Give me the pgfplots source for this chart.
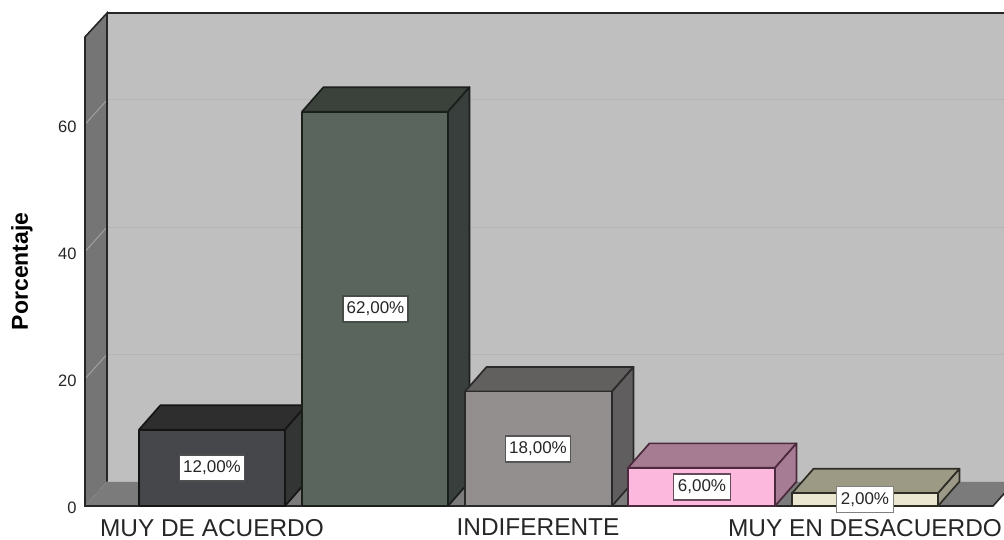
\documentclass[border=0pt]{standalone}
\usepackage{fontspec}
\setmainfont{Liberation Sans}
\usepackage{pgfplots}
\pgfplotsset{compat=1.18}

% Face colours of the five columns: front, top, side, edge
\definecolor{wallback}{HTML}{BFBFBF}
\definecolor{wallside}{HTML}{757575}
\definecolor{floorc}{HTML}{7B7B7B}
\definecolor{gridc}{HTML}{B4B4B4}
\definecolor{tickc}{HTML}{A0A0A0}
\definecolor{txt}{HTML}{262626}
\definecolor{aF}{HTML}{45474A}\definecolor{aT}{HTML}{2E2E2E}\definecolor{aS}{HTML}{333535}\definecolor{aE}{HTML}{151515}
\definecolor{bF}{HTML}{5A665D}\definecolor{bT}{HTML}{3B423C}\definecolor{bS}{HTML}{393F3D}\definecolor{bE}{HTML}{1A1F1C}
\definecolor{cF}{HTML}{928F8E}\definecolor{cT}{HTML}{625F5F}\definecolor{cS}{HTML}{605E5E}\definecolor{cE}{HTML}{2B2A2A}
\definecolor{dF}{HTML}{FCB9DD}\definecolor{dT}{HTML}{A67C92}\definecolor{dS}{HTML}{A67C94}\definecolor{dE}{HTML}{4A2A3C}
\definecolor{eF}{HTML}{EBE6CF}\definecolor{eT}{HTML}{9C9A85}\definecolor{eS}{HTML}{9C9988}\definecolor{eE}{HTML}{2E2D25}

% \cuboid{left}{right}{back left}{back right}{value}{value+depth}{colour prefix}
\newcommand{\cuboid}[7]{%
  \addplot[fill=#7T,draw=#7E,line width=1.7pt,line join=round] coordinates {(#1,#5) (#2,#5) (#4,#6) (#3,#6) (#1,#5)};
  \addplot[fill=#7S,draw=#7E,line width=1.7pt,line join=round] coordinates {(#2,0) (#4,3.85) (#4,#6) (#2,#5) (#2,0)};
  \addplot[fill=#7F,draw=#7E,line width=1.7pt,line join=round] coordinates {(#1,0) (#2,0) (#2,#5) (#1,#5) (#1,0)};
}

\tikzset{
  vallabel/.style={fill=white,draw=#1,line width=1.6pt,inner sep=0pt,minimum height=26pt,
                   font=\fontsize{17}{17}\selectfont,text=txt},
}

\begin{document}
\begin{tikzpicture}
\begin{axis}[
  scale only axis,
  width=919pt, height=506pt,
  xmin=85, xmax=1004, ymin=0, ymax=79.56,
  clip=false,
  axis line style={draw=none},
  tick style={draw=none},
  ytick={0,20,40,60},
  xtick={212,538,865},
  xticklabels={MUY DE ACUERDO,INDIFERENTE,MUY EN DESACUERDO},
  /pgf/number format/assume math mode=true,
  yticklabel style={font=\fontsize{16.5}{16.5}\selectfont,text=txt,yshift=-2pt,xshift=-5pt},
  xticklabel style={font=\fontsize{24.4}{24.4}\selectfont,text=txt,inner sep=0pt,yshift=-13pt},
  ylabel={Porcentaje},
  every axis y label/.style={at={(axis description cs:-0.0686,0.464)},rotate=90,anchor=center},
  ylabel style={font=\bfseries\fontsize{23}{23}\selectfont,text=black},
]
  % Back wall, side wall and floor
  \addplot[fill=wallback,draw=none] coordinates {(107,3.85) (1015,3.85) (1015,77.5) (107,77.5) (107,3.85)};
  \addplot[draw=black!85,line width=1.6pt] coordinates {(107,77.5) (1015,77.5)};
  \addplot[fill=wallside,draw=none] coordinates {(85,0) (107,3.85) (107,77.5) (85,73.75) (85,0)};
  \addplot[fill=floorc,draw=none] coordinates {(85,0) (993,0) (1015,3.85) (107,3.85) (85,0)};

  % Gridlines on the back wall and their run across the side wall
  \addplot[draw=gridc,line width=1pt] coordinates {(107,23.85) (1015,23.85)};
  \addplot[draw=gridc,line width=1pt] coordinates {(107,43.85) (1015,43.85)};
  \addplot[draw=gridc,line width=1pt] coordinates {(107,63.85) (1015,63.85)};
  \addplot[draw=tickc,line width=1pt] coordinates {(85,20) (107,23.85)};
  \addplot[draw=tickc,line width=1pt] coordinates {(85,40) (107,43.85)};
  \addplot[draw=tickc,line width=1pt] coordinates {(85,60) (107,63.85)};

  % Outline of the walls and floor
  \addplot[draw=black!85,line width=1.6pt] coordinates {(107,3.85) (107,77.5) (85,73.75) (85,0) (993,0) (1015,3.85)};

  % Columns, left to right
  \cuboid{139}{285}{160.5}{306.5}{12}{15.85}{a}
  \cuboid{302}{448}{323.5}{469.5}{62}{65.85}{b}
  \cuboid{465}{612}{486.5}{633.5}{18}{21.85}{c}
  \cuboid{628}{775}{649.5}{796.5}{6}{9.85}{d}
  \cuboid{792}{938}{813.5}{959.5}{2}{5.85}{e}

  % Value labels
  \node[vallabel=aE!75,minimum width=65pt] at (axis cs:212,6) {12,00\%};
  \node[vallabel=bE!80,minimum width=65pt] at (axis cs:375.5,31) {62,00\%};
  \node[vallabel=cE!80,minimum width=65pt] at (axis cs:538,9) {18,00\%};
  \node[vallabel=dE!85,minimum width=57pt] at (axis cs:702,3) {6,00\%};
  \node[vallabel=eE!60,minimum width=57pt] at (axis cs:865,1) {2,00\%};
\end{axis}
\pgfresetboundingbox
\path (-85pt,-34pt) rectangle (919pt,506pt);
\end{tikzpicture}
\end{document}
